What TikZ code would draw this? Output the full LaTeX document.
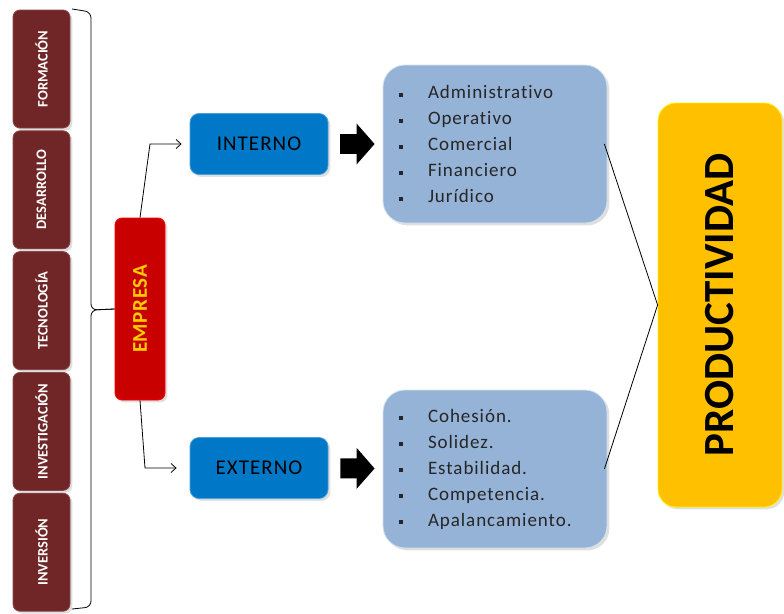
\documentclass[tikz,border=0pt]{standalone}
\usepackage{fontspec}
\setmainfont[Ligatures={NoCommon}]{Carlito}
\usetikzlibrary{positioning,shadows,arrows.meta}
\definecolor{pillarred}{RGB}{112,38,38}
\definecolor{corered}{RGB}{200,0,0}
\definecolor{coreyellow}{RGB}{255,204,0}
\definecolor{sideblue}{RGB}{0,120,200}
\definecolor{listblue}{RGB}{149,179,215}
\definecolor{goalorange}{RGB}{255,192,0}
\newcommand\bul{\rule[2pt]{4pt}{4pt}\hspace{25pt}}

\begin{document}
\begin{tikzpicture}[x=1pt,y=-1pt,>={Straight Barb[length=5pt,width=9pt]},thick,node distance=2pt,
    pillar node/.style={rounded corners=7pt,fill=pillarred,draw=pillarred!85!white,minimum width=57pt,minimum height=118pt,inner sep=0pt,text=white,font=\bfseries\fontsize{14.5}{16}\selectfont,drop shadow={opacity=0.25}},
    core node/.style={rounded corners=7pt,fill=corered,draw=red,minimum width=50pt,minimum height=182pt,inner sep=0pt,text=coreyellow,font=\bfseries\fontsize{21}{23}\selectfont\addfontfeature{LetterSpace=3},drop shadow={opacity=0.25}},
    side node/.style={rounded corners=9pt,fill=sideblue,draw=sideblue!70!white,minimum width=138pt,minimum height=61pt,inner sep=0pt,text=black,font=\fontsize{21}{23}\selectfont\addfontfeature{LetterSpace=5},drop shadow={opacity=0.25}},
    list node/.style={rounded corners=22pt,fill=listblue,draw=listblue!40!white,minimum width=224pt,minimum height=158pt,inner xsep=16pt,text width=192pt,align=left,text=black!85,font=\fontsize{19}{26}\selectfont\addfontfeature{LetterSpace=5},drop shadow={opacity=0.25}},
    goal node/.style={rounded corners=18pt,fill=goalorange,draw=yellow,minimum width=124pt,minimum height=404pt,inner sep=0pt,text=black,font=\bfseries\fontsize{43}{45}\selectfont,drop shadow={opacity=0.25}},
    block arrow/.style={line width=20pt,-{Triangle[length=18pt,width=40pt]},shorten <=12pt,shorten >=8pt}]

    \useasboundingbox (0,0) rectangle (784,613);

    % los cinco pilares
    \node[pillar node] (form) at (41.5,69) {\rotatebox{90}{FORMACIÓN}};
    \node[pillar node] (desa) [below=of form] {\rotatebox{90}{DESARROLLO}};
    \node[pillar node] (tecn) [below=of desa] {\rotatebox{90}{TECNOLOGÍA}};
    \node[pillar node] (inve) [below=of tecn] {\rotatebox{90}{INVESTIGACIÓN}};
    \node[pillar node] (invr) [below=of inve] {\rotatebox{90}{INVERSIÓN}};

    \node[core node] (empresa) at (140,309) {\rotatebox{90}{EMPRESA}};
    \node[side node] (interno) at (259,144) {INTERNO};
    \node[side node] (externo) at (259,468) {EXTERNO};

    \node[list node] (intlist) at (495,144) {\bul Administrativo\\ \bul Operativo\\ \bul Comercial\\ \bul Financiero\\ \bul Jurídico};
    \node[list node] (extlist) at (495,469) {\bul Cohesión.\\ \bul Solidez.\\ \bul Estabilidad.\\ \bul Competencia.\\ \bul Apalancamiento.};

    \node[goal node] (prod) at (720,305) {\rotatebox{90}{PRODUCTIVIDAD}};

    % llave
    \draw[rounded corners=6pt] (72,9) -- (91,12) -- (91,310) -- (empresa.west);
    \draw[rounded corners=6pt] (empresa.west) -- (91,310) -- (91,607) -- (72,609);

    \draw[->] (empresa.north) -- ([xshift=10pt]empresa.north |- interno.west) -- ([xshift=-8pt]interno.west);
    \draw[->] (empresa.south) -- ([xshift=5pt]empresa.south |- externo.west) -- ([xshift=-13pt]externo.west);

    \draw[block arrow] (interno) -- (intlist);
    \draw[block arrow] (externo) -- (extlist);

    \draw ([xshift=-3pt]intlist.east) -- (prod.west) -- ([xshift=-3pt]extlist.east);
\end{tikzpicture}
\end{document}
